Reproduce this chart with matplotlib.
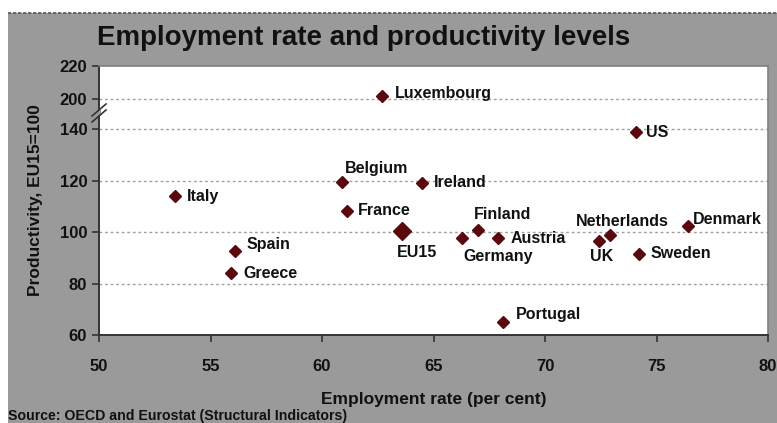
import numpy as np
import matplotlib
matplotlib.use("Agg")
import matplotlib.pyplot as plt
from matplotlib.patches import Rectangle
from matplotlib.lines import Line2D

plt.rcParams["font.family"] = ["Liberation Sans", "DejaVu Sans"]

# ── data ──────────────────────────────────────────────────────────
countries = ["Luxembourg", "US", "Italy", "Belgium", "France", "Spain", "Greece",
             "EU15", "Ireland", "Germany", "Finland", "Austria", "Portugal",
             "UK", "Netherlands", "Sweden", "Denmark"]
employment = [62.7, 74.1, 53.4, 60.9, 61.1, 56.1, 55.9,
              63.6, 64.5, 66.3, 67.0, 67.9, 68.1,
              72.4, 72.9, 74.2, 76.4]
productivity = [202, 139, 114, 119.5, 108.4, 92.5, 84,
                100.5, 119.2, 97.7, 101, 97.7, 65,
                96.4, 98.8, 91.6, 102.5]
x_ticks = [50, 55, 60, 65, 70, 75, 80]
y_ticks = [60, 80, 100, 120, 140, 200, 220]
grid_levels = [80, 100, 120, 140, 200]

# label offsets in pixels (dx, dy), text left-aligned
offsets = {"Luxembourg": (13, 2), "US": (10, -1), "Italy": (12, 0),
           "Belgium": (3, 13), "France": (11, 0), "Spain": (11, 7),
           "Greece": (13, 0), "EU15": (-5, -22), "Ireland": (12, 0),
           "Germany": (1, -18), "Finland": (-4, 15), "Austria": (12, 0),
           "Portugal": (13, 8), "UK": (-9, -15), "Netherlands": (-34, 14),
           "Sweden": (12, 0), "Denmark": (5, 6)}

# ── broken y scale: 140..200 and 200..220 compressed ─────────────
S1 = 11.7 / 60.0
S2 = 12.9 / 20.0
B1 = 140 + 60 * S1

def fwd(y):
    y = np.asarray(y, float)
    return np.where(y <= 140, y,
                    np.where(y <= 200, 140 + (y - 140) * S1, B1 + (y - 200) * S2))

def inv(t):
    t = np.asarray(t, float)
    return np.where(t <= 140, t,
                    np.where(t <= B1, 140 + (t - 140) / S1, 200 + (t - B1) / S2))

W, H = 777, 423
fig = plt.figure(figsize=(W / 100, H / 100), dpi=100)
fig.patch.set_facecolor("white")

GRAY = "#9a9a9a"
fig.patches.append(Rectangle((8 / W, 0), 1 - 8 / W, 1 - 13 / H, transform=fig.transFigure,
                             facecolor=GRAY, edgecolor="none", zorder=-2))
fig.lines.append(Line2D([8 / W, 1], [1 - 13 / H, 1 - 13 / H], transform=fig.transFigure,
                        color="#555555", lw=1.2, linestyle=(0, (2, 1)), zorder=-1))

ax = fig.add_axes([99 / W, 1 - 335 / H, (768 - 99) / W, (335 - 66) / H])
ax.set_facecolor("white")
ax.set_yscale("function", functions=(fwd, inv))
ax.set_xlim(50, 80)
ax.set_ylim(60, 220)
ax.set_xticks(x_ticks)
ax.set_yticks(y_ticks)
ax.minorticks_off()
ax.tick_params(axis="both", direction="out", length=5, width=1.2, color="#333333",
               labelsize=12, labelcolor="#111111")
ax.tick_params(axis="x", pad=12)
for lbl in ax.get_xticklabels() + ax.get_yticklabels():
    lbl.set_fontweight("bold")

for g in grid_levels:
    ax.axhline(g, color="#a0a0a0", lw=1, linestyle=(0, (2, 2)), zorder=1)

for s in ["left", "bottom"]:
    ax.spines[s].set_color("#333333")
    ax.spines[s].set_linewidth(1.4)
for s in ["top", "right"]:
    ax.spines[s].set_color("#808080")
    ax.spines[s].set_linewidth(1.2)

MAROON = "#5a0a0e"
for name, x, y in zip(countries, employment, productivity):
    ms = 9 if name == "EU15" else 6
    ax.plot(x, y, marker="D", ms=ms, color=MAROON, mec=MAROON, zorder=3)
    dx, dy = offsets[name]
    ax.annotate(name, (x, y), xytext=(dx, dy), textcoords="offset pixels",
                ha="left", va="center", fontsize=11.5, fontweight="bold",
                color="#111111", zorder=4)

# axis break marks
bx = 99 / W
fig.patches.append(Rectangle((bx - 2 / W, 1 - 116 / H), 4 / W, 6 / H,
                             transform=fig.transFigure, facecolor=GRAY,
                             edgecolor="none", zorder=5))
for off in (-3, 3):
    y0 = 1 - (113 + off) / H
    fig.lines.append(Line2D([bx - 7 / W, bx + 7 / W], [y0 - 6 / H, y0 + 6 / H],
                            transform=fig.transFigure, color="#333333", lw=1.2, zorder=6))

ax.set_xlabel("Employment rate (per cent)", fontsize=12.5, fontweight="bold",
              color="#111111", labelpad=13)
ax.set_ylabel("Productivity, EU15=100", fontsize=12.5, fontweight="bold",
              color="#111111", labelpad=12)

fig.text(97 / W, 1 - 38 / H, "Employment rate and productivity levels",
         ha="left", va="center", fontsize=20, fontweight="bold", color="#111111")
fig.text(8 / W, 1 - 416 / H, "Source: OECD and Eurostat (Structural Indicators)",
         ha="left", va="center", fontsize=10.2, fontweight="bold", color="#111111")

fig.savefig("out.png", dpi=100, facecolor=fig.get_facecolor())
